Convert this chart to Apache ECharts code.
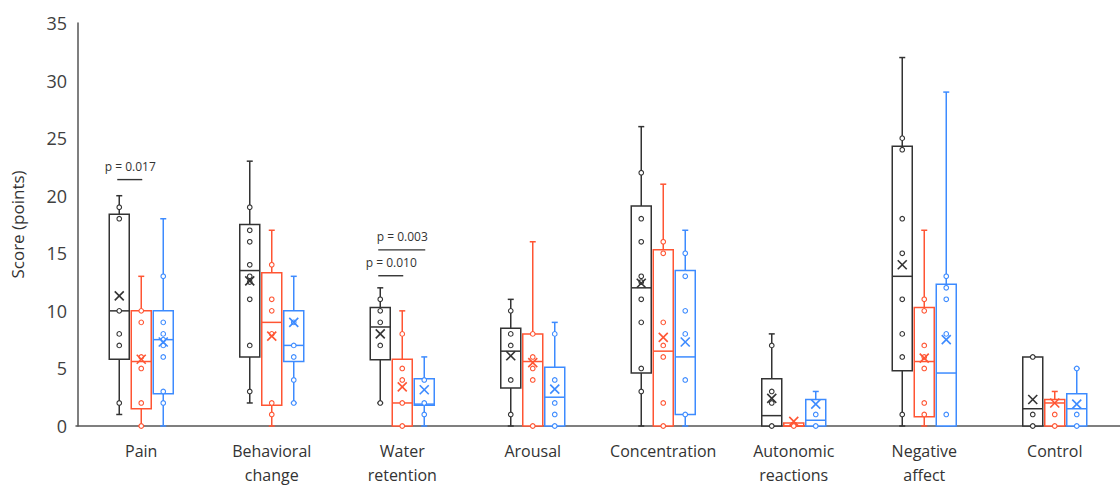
<!DOCTYPE html>
<html>
<head>
<meta charset="utf-8">
<script src="https://cdn.jsdelivr.net/npm/echarts@6/dist/echarts.min.js"></script>
<style>
  html, body { margin: 0; padding: 0; background: #fff; }
  #chart { width: 1120px; height: 487px; }
</style>
</head>
<body>
<div id="chart"></div>
<script>
// ---------- DATA ----------
const categories = ['Pain', 'Behavioral\nchange', 'Water\nretention', 'Arousal', 'Concentration', 'Autonomic\nreactions', 'Negative\naffect', 'Control'];
const yTicks = [0, 5, 10, 15, 20, 25, 30, 35];

// per category: [whiskerMin, Q1, median, Q3, whiskerMax, mean]
const blackStats = [
  [1, 5.8, 10, 18.4, 20, 11.3],
  [2, 6, 13.5, 17.5, 23, 12.6],
  [2, 5.75, 8.6, 10.3, 12, 8.0],
  [0, 3.3, 6.5, 8.5, 11, 6.1],
  [0, 4.6, 12, 19.1, 26, 12.4],
  [0, 0, 0.9, 4.1, 8, 2.4],
  [0, 4.8, 13, 24.3, 32, 14.0],
  [0, 0, 1.5, 6, 6, 2.3]
];
const orangeStats = [
  [0, 1.5, 5.6, 10, 13, 5.8],
  [0, 1.8, 9, 13.3, 17, 7.8],
  [0, 0, 2, 5.8, 10, 3.4],
  [0, 0, 5.6, 8, 16, 5.5],
  [0, 0, 6.5, 15.3, 21, 7.7],
  [0, 0, 0, 0.25, 0.25, 0.4],
  [0, 0.8, 5.6, 10.3, 17, 5.9],
  [0, 0, 2, 2.3, 3, 2.0]
];
const blueStats = [
  [0, 2.8, 7.5, 10, 18, 7.3],
  [2, 5.6, 7, 10, 13, 9.0],
  [0, 1.8, 1.9, 4.1, 6, 3.15],
  [0, 0, 2.5, 5.1, 9, 3.2],
  [0, 1, 6, 13.5, 17, 7.3],
  [0, 0, 0.5, 2.3, 3, 1.9],
  [0, 0, 4.6, 12.3, 29, 7.5],
  [0, 0, 1.5, 2.8, 5, 1.9]
];

// individual participant scores
const blackPts = [
  [19, 18, 10, 8, 7, 2],
  [19, 17, 16, 14, 13, 12.5, 11, 7, 3],
  [11, 10, 9, 7, 2],
  [10, 8, 7, 4, 1],
  [22, 18, 16, 13, 12.5, 11, 9, 5, 3],
  [7, 3, 2, 0],
  [25, 24, 18, 15, 11, 8, 6, 1],
  [6, 1, 0]
];
const orangePts = [
  [10, 9, 6, 5, 2, 0],
  [14, 11, 10, 8, 2, 1],
  [8, 5, 4, 2, 0],
  [8, 6, 5, 4, 0],
  [16, 15, 9, 7, 6, 2, 0],
  [0],
  [11, 10, 7, 6, 5, 2, 1],
  [1, 0]
];
const bluePts = [
  [13, 9, 8, 7.5, 7, 6, 3, 2],
  [9, 7, 6, 4, 2],
  [4, 2, 1],
  [8, 4, 2, 1, 0],
  [15, 13, 10, 8, 4, 1],
  [1, 0],
  [13, 12, 11, 8, 1],
  [5, 1, 0]
];

// significance brackets
const sigCat = [0, 2, 2];
const sigFrom = [0, 0, 0];
const sigTo = [1, 1, 2];
const sigY = [21.4, 13.05, 15.3];
const sigText = ['p = 0.017', 'p = 0.010', 'p = 0.003'];

// ---------- STYLE ----------
const groupColors = ['#333333', '#ff5533', '#3d8bff'];
const groupOffsets = [-22, 0, 22];
const BOX_HALF = 10;
const CAP_HALF = 3;

function boxSeries(stats, g) {
  const color = groupColors[g], off = groupOffsets[g];
  return {
    type: 'custom',
    z: 2,
    data: stats.map((s, i) => [i].concat(s)),
    renderItem: function (params, api) {
      const c = api.value(0);
      const x = api.coord([c, 0])[0] + off;
      const y = v => api.coord([c, v])[1];
      const yMin = y(api.value(1)), yQ1 = y(api.value(2)), yMed = y(api.value(3)),
            yQ3 = y(api.value(4)), yMax = y(api.value(5));
      const st = { stroke: color, lineWidth: 1.5, fill: null };
      return {
        type: 'group',
        children: [
          { type: 'line', shape: { x1: x, y1: yQ3, x2: x, y2: yMax }, style: st },
          { type: 'line', shape: { x1: x, y1: yQ1, x2: x, y2: yMin }, style: st },
          { type: 'line', shape: { x1: x - CAP_HALF, y1: yMax, x2: x + CAP_HALF, y2: yMax }, style: st },
          { type: 'line', shape: { x1: x - CAP_HALF, y1: yMin, x2: x + CAP_HALF, y2: yMin }, style: st },
          { type: 'rect', shape: { x: x - BOX_HALF, y: yQ3, width: 2 * BOX_HALF, height: Math.max(yQ1 - yQ3, 0.5) },
            style: { stroke: color, lineWidth: 1.5, fill: '#fff' } },
          { type: 'line', shape: { x1: x - BOX_HALF, y1: yMed, x2: x + BOX_HALF, y2: yMed }, style: st }
        ]
      };
    }
  };
}

function pointSeries(pts, g) {
  const color = groupColors[g], off = groupOffsets[g];
  const data = [];
  pts.forEach((arr, i) => arr.forEach(v => data.push([i, v])));
  return {
    type: 'custom',
    z: 3,
    data: data,
    renderItem: function (params, api) {
      const p = api.coord([api.value(0), api.value(1)]);
      return { type: 'circle', shape: { cx: p[0] + off, cy: p[1], r: 2.3 },
               style: { stroke: color, lineWidth: 1.1, fill: '#fff' } };
    }
  };
}

function meanSeries(stats, g) {
  const color = groupColors[g], off = groupOffsets[g];
  return {
    type: 'custom',
    z: 4,
    data: stats.map((s, i) => [i, s[5]]),
    renderItem: function (params, api) {
      const p = api.coord([api.value(0), api.value(1)]);
      const x = p[0] + off, y = p[1], d = 4.5;
      const st = { stroke: color, lineWidth: 1.6 };
      return { type: 'group', children: [
        { type: 'line', shape: { x1: x - d, y1: y - d, x2: x + d, y2: y + d }, style: st },
        { type: 'line', shape: { x1: x - d, y1: y + d, x2: x + d, y2: y - d }, style: st }
      ]};
    }
  };
}

const sigSeries = {
  type: 'custom',
  z: 5,
  data: sigCat.map((c, i) => [c, sigFrom[i], sigTo[i], sigY[i], i]),
  renderItem: function (params, api) {
    const c = api.value(0);
    const p = api.coord([c, api.value(3)]);
    const x1 = p[0] + groupOffsets[api.value(1)];
    const x2 = p[0] + groupOffsets[api.value(2)];
    const y = p[1];
    return { type: 'group', children: [
      { type: 'line', shape: { x1: x1 - 2, y1: y, x2: x2 + 1, y2: y }, style: { stroke: '#333', lineWidth: 1.4 } },
      { type: 'text', style: { text: sigText[api.value(4)], x: (x1 + x2) / 2, y: y - 13,
          align: 'center', verticalAlign: 'middle', fill: '#333', font: '12px "Open Sans", sans-serif' } }
    ]};
  }
};

const chart = echarts.init(document.getElementById('chart'), null, { renderer: 'svg' });
chart.setOption({
  animation: false,
  backgroundColor: '#fff',
  grid: { left: 76, right: -8, top: 23, bottom: 58, containLabel: false },
  xAxis: {
    type: 'category',
    data: categories,
    boundaryGap: true,
    axisLine: { show: true, lineStyle: { color: '#555', width: 1.5 } },
    axisTick: { show: false },
    axisLabel: { color: '#333', fontSize: 16, lineHeight: 24, margin: 13, interval: 0,
                 fontFamily: '"Open Sans", sans-serif' }
  },
  yAxis: {
    type: 'value',
    min: yTicks[0], max: yTicks[yTicks.length - 1], interval: 5,
    offset: -2,
    name: 'Score (points)',
    nameLocation: 'middle',
    nameRotate: 90,
    nameGap: 52,
    nameTextStyle: { color: '#333', fontSize: 17, fontFamily: '"Open Sans", sans-serif' },
    axisLine: { show: true, lineStyle: { color: '#555', width: 1.5 } },
    axisTick: { show: false },
    splitLine: { show: false },
    axisLabel: { color: '#404040', fontSize: 18, margin: 11, fontFamily: '"Open Sans", sans-serif' }
  },
  series: [
    boxSeries(blackStats, 0), boxSeries(orangeStats, 1), boxSeries(blueStats, 2),
    pointSeries(blackPts, 0), pointSeries(orangePts, 1), pointSeries(bluePts, 2),
    meanSeries(blackStats, 0), meanSeries(orangeStats, 1), meanSeries(blueStats, 2),
    sigSeries
  ]
});
</script>
</body>
</html>
